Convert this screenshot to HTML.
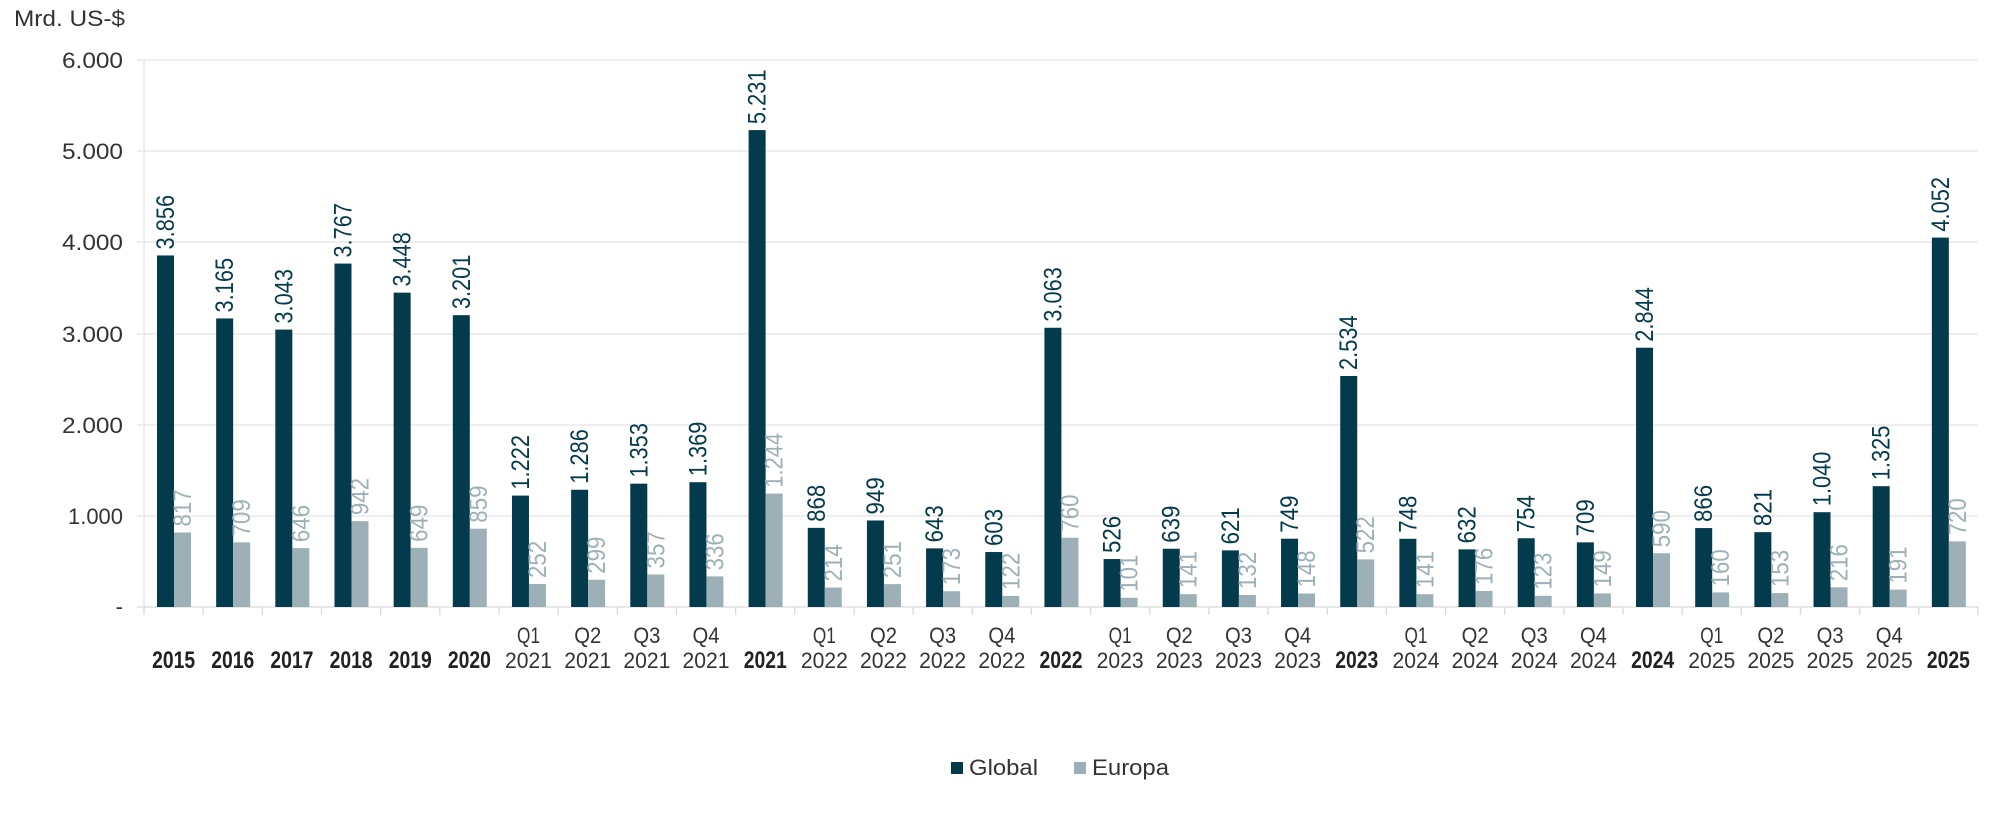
<!DOCTYPE html>
<html><head><meta charset="utf-8"><style>
html,body{margin:0;padding:0;background:#fff;}
svg{display:block;font-family:"Liberation Sans",sans-serif;}
</style></head><body>
<svg id="c" width="2008" height="821" viewBox="0 0 2008 821" xmlns="http://www.w3.org/2000/svg">
<text x="14" y="26" font-size="22" fill="#333" textLength="111" lengthAdjust="spacingAndGlyphs">Mrd. US-$</text>
<g stroke="#e3e3e3" stroke-width="1.3">
<line x1="137" x2="1978" y1="60" y2="60"/><line x1="137" x2="1978" y1="151" y2="151"/><line x1="137" x2="1978" y1="242" y2="242"/><line x1="137" x2="1978" y1="334" y2="334"/><line x1="137" x2="1978" y1="425" y2="425"/><line x1="137" x2="1978" y1="516" y2="516"/>
<line x1="144" x2="144" y1="60" y2="614"/>
</g>
<g font-size="22" fill="#333" text-anchor="end">
<text x="123" y="68" textLength="61" lengthAdjust="spacingAndGlyphs">6.000</text>
<text x="123" y="159" textLength="61" lengthAdjust="spacingAndGlyphs">5.000</text>
<text x="123" y="250" textLength="61" lengthAdjust="spacingAndGlyphs">4.000</text>
<text x="123" y="342" textLength="61" lengthAdjust="spacingAndGlyphs">3.000</text>
<text x="123" y="433" textLength="61" lengthAdjust="spacingAndGlyphs">2.000</text>
<text x="123" y="524" textLength="55" lengthAdjust="spacingAndGlyphs">1.000</text>
<text x="123" y="614">-</text>
</g>
<g id="bars"></g>
<rect x="951" y="762" width="12" height="12" fill="#033a4c"/>
<text x="969" y="775" font-size="22" fill="#333" textLength="69" lengthAdjust="spacingAndGlyphs">Global</text>
<rect x="1074" y="762" width="12" height="12" fill="#9db0b8"/>
<text x="1092" y="775" font-size="22" fill="#333" textLength="77" lengthAdjust="spacingAndGlyphs">Europa</text>
</svg>
<script>
var cats=[["2015",3856,817,1],["2016",3165,709,1],["2017",3043,646,1],["2018",3767,942,1],["2019",3448,649,1],["2020",3201,859,1],
["Q1 2021",1222,252],["Q2 2021",1286,299],["Q3 2021",1353,357],["Q4 2021",1369,336],["2021",5231,1244,1],
["Q1 2022",868,214],["Q2 2022",949,251],["Q3 2022",643,173],["Q4 2022",603,122],["2022",3063,760,1],
["Q1 2023",526,101],["Q2 2023",639,141],["Q3 2023",621,132],["Q4 2023",749,148],["2023",2534,522,1],
["Q1 2024",748,141],["Q2 2024",632,176],["Q3 2024",754,123],["Q4 2024",709,149],["2024",2844,590,1],
["Q1 2025",866,160],["Q2 2025",821,153],["Q3 2025",1040,216],["Q4 2025",1325,191],["2025",4052,720,1]];
var x0=144,w=(1978-144)/31,base=607,k=547/6000,s='';
function fmt(v){var t=String(v);return t.length>3?t.slice(0,-3)+'.'+t.slice(-3):t;}
function lab(x,y,v,col){var t=fmt(v);var L=0;for(var c of t)L+=(c=='.'?5:12.4);
return '<text transform="translate('+x+','+y+') rotate(-90)" font-size="25" fill="'+col+'" textLength="'+L.toFixed(1)+'" lengthAdjust="spacingAndGlyphs">'+t+'</text>';}
s+='<line x1="137" x2="1978" y1="607" y2="607" stroke="#d9d9d9" stroke-width="1.3"/>';
for(var i=0;i<=31;i++){var tx=x0+i*w;s+='<line x1="'+tx+'" x2="'+tx+'" y1="607" y2="615" stroke="#d9d9d9" stroke-width="1.3"/>';}
cats.forEach(function(c,i){var cx=x0+i*w;var bx=cx+13;
var hg=c[1]*k,he=c[2]*k;
s+='<rect x="'+bx+'" y="'+(base-hg)+'" width="17" height="'+hg+'" fill="#033a4c"/>';
s+='<rect x="'+(bx+17)+'" y="'+(base-he)+'" width="17" height="'+he+'" fill="#9db0b8"/>';
s+=lab(bx+17,base-hg-6,c[1],'#033a4c');
s+=lab(bx+34,base-he-6,c[2],'#9db0b8');
var mid=cx+w/2;
if(c[3]){s+='<text x="'+mid+'" y="668" font-size="24" font-weight="bold" fill="#222" text-anchor="middle" textLength="43" lengthAdjust="spacingAndGlyphs">'+c[0]+'</text>';}
else{var p=c[0].split(' ');
s+='<text x="'+mid+'" y="643" font-size="22" fill="#333" text-anchor="middle" textLength="'+(p[0]=='Q1'?23:27)+'" lengthAdjust="spacingAndGlyphs">'+p[0]+'</text>';
s+='<text x="'+mid+'" y="668" font-size="22" fill="#333" text-anchor="middle" textLength="47" lengthAdjust="spacingAndGlyphs">'+p[1]+'</text>';}
});
document.getElementById('bars').innerHTML=s;
</script>
</body></html>
